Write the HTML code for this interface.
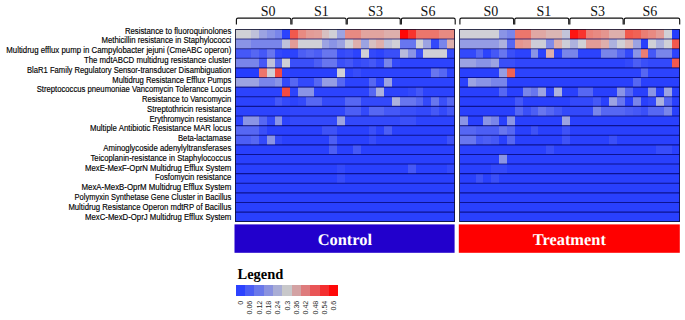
<!DOCTYPE html>
<html lang="en"><head><meta charset="utf-8"><title>Heatmap</title>
<style>
html,body{margin:0;padding:0;background:#fff;}
body{width:685px;height:320px;overflow:hidden;}
svg{display:block;}
.lab{font-family:"Liberation Sans",Arial,sans-serif;font-size:8.3px;fill:#000;stroke:#000;stroke-width:0.15px;}
.grp{font-family:"Liberation Serif","Times New Roman",serif;font-size:14px;fill:#111;}
.ttl{font-family:"Liberation Serif","Times New Roman",serif;font-weight:bold;font-size:16.4px;fill:#fff;text-rendering:geometricPrecision;}
.leg{font-family:"Liberation Serif","Times New Roman",serif;font-weight:bold;font-size:14.5px;fill:#000;}
.tick{font-family:"Liberation Sans",Arial,sans-serif;font-size:8px;fill:#2a2a2a;}
</style></head><body>
<svg width="685" height="320" viewBox="0 0 685 320">
<rect x="0" y="0" width="685" height="320" fill="#ffffff"/>

<g class="lab">
<text x="124.90" y="33.60" textLength="106.40" lengthAdjust="spacingAndGlyphs">Resistance to fluoroquinolones</text>
<text x="101.50" y="43.38" textLength="129.80" lengthAdjust="spacingAndGlyphs">Methicillin resistance in Staphylococci</text>
<text x="6.30" y="53.17" textLength="225.00" lengthAdjust="spacingAndGlyphs">Multidrug efflux pump in Campylobacter jejuni (CmeABC operon)</text>
<text x="84.00" y="62.95" textLength="147.30" lengthAdjust="spacingAndGlyphs">The mdtABCD multidrug resistance cluster</text>
<text x="27.00" y="72.74" textLength="204.30" lengthAdjust="spacingAndGlyphs">BlaR1 Family Regulatory Sensor-transducer Disambiguation</text>
<text x="112.30" y="82.52" textLength="119.00" lengthAdjust="spacingAndGlyphs">Multidrug Resistance Efflux Pumps</text>
<text x="36.70" y="92.30" textLength="194.60" lengthAdjust="spacingAndGlyphs">Streptococcus pneumoniae Vancomycin Tolerance Locus</text>
<text x="142.00" y="102.09" textLength="89.30" lengthAdjust="spacingAndGlyphs">Resistance to Vancomycin</text>
<text x="147.00" y="111.87" textLength="84.30" lengthAdjust="spacingAndGlyphs">Streptothricin resistance</text>
<text x="149.50" y="121.66" textLength="81.80" lengthAdjust="spacingAndGlyphs">Erythromycin resistance</text>
<text x="90.00" y="131.44" textLength="141.30" lengthAdjust="spacingAndGlyphs">Multiple Antibiotic Resistance MAR locus</text>
<text x="178.00" y="141.22" textLength="53.30" lengthAdjust="spacingAndGlyphs">Beta-lactamase</text>
<text x="103.25" y="151.01" textLength="128.05" lengthAdjust="spacingAndGlyphs">Aminoglycoside adenylyltransferases</text>
<text x="90.50" y="160.79" textLength="140.80" lengthAdjust="spacingAndGlyphs">Teicoplanin-resistance in Staphylococcus</text>
<text x="85.00" y="170.58" textLength="146.30" lengthAdjust="spacingAndGlyphs">MexE-MexF-OprN Multidrug Efflux System</text>
<text x="155.10" y="180.36" textLength="76.20" lengthAdjust="spacingAndGlyphs">Fosfomycin resistance</text>
<text x="81.50" y="190.14" textLength="149.80" lengthAdjust="spacingAndGlyphs">MexA-MexB-OprM Multidrug Efflux System</text>
<text x="74.50" y="199.93" textLength="156.80" lengthAdjust="spacingAndGlyphs">Polymyxin Synthetase Gene Cluster in Bacillus</text>
<text x="68.40" y="209.71" textLength="162.90" lengthAdjust="spacingAndGlyphs">Multidrug Resistance Operon mdtRP of Bacillus</text>
<text x="85.00" y="219.50" textLength="146.30" lengthAdjust="spacingAndGlyphs">MexC-MexD-OprJ Multidrug Efflux System</text>
</g>
<g shape-rendering="crispEdges">
<rect x="235.40" y="29.45" width="219.30" height="192.30" fill="#2940fd"/>
<rect x="235.40" y="29.45" width="15.66" height="9.62" fill="#d0d0d6"/>
<rect x="251.06" y="29.45" width="7.83" height="9.62" fill="#bfc1da"/>
<rect x="258.90" y="29.45" width="7.83" height="9.62" fill="#9ca3e2"/>
<rect x="266.73" y="29.45" width="7.83" height="9.62" fill="#8a94e6"/>
<rect x="274.56" y="29.45" width="7.83" height="9.62" fill="#7985ea"/>
<rect x="282.39" y="29.45" width="7.83" height="9.62" fill="#2c43fd"/>
<rect x="290.23" y="29.45" width="7.83" height="9.62" fill="#f2594d"/>
<rect x="298.06" y="29.45" width="7.83" height="9.62" fill="#e88a82"/>
<rect x="305.89" y="29.45" width="7.83" height="9.62" fill="#e39c97"/>
<rect x="313.72" y="29.45" width="7.83" height="9.62" fill="#e2a09b"/>
<rect x="321.55" y="29.45" width="7.83" height="9.62" fill="#d7c0c1"/>
<rect x="329.39" y="29.45" width="7.83" height="9.62" fill="#d0d0d6"/>
<rect x="337.22" y="29.45" width="7.83" height="9.62" fill="#9ca3e2"/>
<rect x="345.05" y="29.45" width="15.66" height="9.62" fill="#e88a82"/>
<rect x="360.71" y="29.45" width="23.50" height="9.62" fill="#e1a49f"/>
<rect x="384.21" y="29.45" width="15.66" height="9.62" fill="#deafac"/>
<rect x="399.88" y="29.45" width="7.83" height="9.62" fill="#ff0808"/>
<rect x="407.71" y="29.45" width="7.83" height="9.62" fill="#f8342d"/>
<rect x="415.54" y="29.45" width="23.50" height="9.62" fill="#ec766c"/>
<rect x="439.04" y="29.45" width="15.66" height="9.62" fill="#e88a82"/>
<rect x="235.40" y="39.06" width="15.66" height="9.62" fill="#8a94e6"/>
<rect x="251.06" y="39.06" width="31.33" height="9.62" fill="#7985ea"/>
<rect x="282.39" y="39.06" width="7.83" height="9.62" fill="#bfc1da"/>
<rect x="290.23" y="39.06" width="7.83" height="9.62" fill="#e39c97"/>
<rect x="298.06" y="39.06" width="23.50" height="9.62" fill="#d0d0d6"/>
<rect x="321.55" y="39.06" width="7.83" height="9.62" fill="#9ca3e2"/>
<rect x="329.39" y="39.06" width="7.83" height="9.62" fill="#8a94e6"/>
<rect x="337.22" y="39.06" width="7.83" height="9.62" fill="#9ca3e2"/>
<rect x="345.05" y="39.06" width="7.83" height="9.62" fill="#d0d0d6"/>
<rect x="352.88" y="39.06" width="7.83" height="9.62" fill="#deafac"/>
<rect x="360.71" y="39.06" width="7.83" height="9.62" fill="#9ca3e2"/>
<rect x="368.55" y="39.06" width="7.83" height="9.62" fill="#d7c0c1"/>
<rect x="376.38" y="39.06" width="7.83" height="9.62" fill="#deafac"/>
<rect x="384.21" y="39.06" width="7.83" height="9.62" fill="#bfc1da"/>
<rect x="392.04" y="39.06" width="7.83" height="9.62" fill="#d0d0d6"/>
<rect x="399.88" y="39.06" width="15.66" height="9.62" fill="#6876ef"/>
<rect x="415.54" y="39.06" width="7.83" height="9.62" fill="#d0d0d6"/>
<rect x="423.37" y="39.06" width="7.83" height="9.62" fill="#9ca3e2"/>
<rect x="431.20" y="39.06" width="7.83" height="9.62" fill="#3349fb"/>
<rect x="439.04" y="39.06" width="7.83" height="9.62" fill="#7985ea"/>
<rect x="446.87" y="39.06" width="7.83" height="9.62" fill="#deafac"/>
<rect x="235.40" y="48.68" width="15.66" height="9.62" fill="#4558f7"/>
<rect x="251.06" y="48.68" width="7.83" height="9.62" fill="#5667f3"/>
<rect x="258.90" y="48.68" width="7.83" height="9.62" fill="#4558f7"/>
<rect x="266.73" y="48.68" width="7.83" height="9.62" fill="#6876ef"/>
<rect x="274.56" y="48.68" width="7.83" height="9.62" fill="#3349fb"/>
<rect x="282.39" y="48.68" width="15.66" height="9.62" fill="#2c43fd"/>
<rect x="298.06" y="48.68" width="7.83" height="9.62" fill="#4c5ef5"/>
<rect x="305.89" y="48.68" width="7.83" height="9.62" fill="#5667f3"/>
<rect x="313.72" y="48.68" width="7.83" height="9.62" fill="#4c5ef5"/>
<rect x="321.55" y="48.68" width="15.66" height="9.62" fill="#6876ef"/>
<rect x="337.22" y="48.68" width="7.83" height="9.62" fill="#3349fb"/>
<rect x="345.05" y="48.68" width="7.83" height="9.62" fill="#3a4ff9"/>
<rect x="352.88" y="48.68" width="7.83" height="9.62" fill="#2c43fd"/>
<rect x="360.71" y="48.68" width="7.83" height="9.62" fill="#d0d0d6"/>
<rect x="368.55" y="48.68" width="7.83" height="9.62" fill="#3349fb"/>
<rect x="376.38" y="48.68" width="7.83" height="9.62" fill="#2c43fd"/>
<rect x="384.21" y="48.68" width="15.66" height="9.62" fill="#3a4ff9"/>
<rect x="399.88" y="48.68" width="7.83" height="9.62" fill="#b8bbdc"/>
<rect x="407.71" y="48.68" width="7.83" height="9.62" fill="#8a94e6"/>
<rect x="415.54" y="48.68" width="7.83" height="9.62" fill="#3a4ff9"/>
<rect x="423.37" y="48.68" width="23.50" height="9.62" fill="#d0d0d6"/>
<rect x="446.87" y="48.68" width="7.83" height="9.62" fill="#3349fb"/>
<rect x="235.40" y="58.30" width="23.50" height="9.62" fill="#7985ea"/>
<rect x="258.90" y="58.30" width="7.83" height="9.62" fill="#4558f7"/>
<rect x="266.73" y="58.30" width="7.83" height="9.62" fill="#bfc1da"/>
<rect x="274.56" y="58.30" width="7.83" height="9.62" fill="#5667f3"/>
<rect x="282.39" y="58.30" width="7.83" height="9.62" fill="#d0d0d6"/>
<rect x="290.23" y="58.30" width="23.50" height="9.62" fill="#3a4ff9"/>
<rect x="313.72" y="58.30" width="7.83" height="9.62" fill="#4c5ef5"/>
<rect x="321.55" y="58.30" width="15.66" height="9.62" fill="#6876ef"/>
<rect x="337.22" y="58.30" width="7.83" height="9.62" fill="#3a4ff9"/>
<rect x="345.05" y="58.30" width="7.83" height="9.62" fill="#4558f7"/>
<rect x="352.88" y="58.30" width="7.83" height="9.62" fill="#3349fb"/>
<rect x="360.71" y="58.30" width="7.83" height="9.62" fill="#3a4ff9"/>
<rect x="368.55" y="58.30" width="7.83" height="9.62" fill="#4558f7"/>
<rect x="376.38" y="58.30" width="7.83" height="9.62" fill="#3349fb"/>
<rect x="384.21" y="58.30" width="7.83" height="9.62" fill="#7985ea"/>
<rect x="392.04" y="58.30" width="7.83" height="9.62" fill="#3349fb"/>
<rect x="399.88" y="58.30" width="54.82" height="9.62" fill="#2c43fd"/>
<rect x="235.40" y="67.91" width="23.50" height="9.62" fill="#253dfe"/>
<rect x="258.90" y="67.91" width="7.83" height="9.62" fill="#ec766c"/>
<rect x="266.73" y="67.91" width="7.83" height="9.62" fill="#d0d0d6"/>
<rect x="274.56" y="67.91" width="7.83" height="9.62" fill="#f44b41"/>
<rect x="282.39" y="67.91" width="7.83" height="9.62" fill="#2c43fd"/>
<rect x="337.22" y="67.91" width="7.83" height="9.62" fill="#d0d0d6"/>
<rect x="345.05" y="67.91" width="7.83" height="9.62" fill="#2c43fd"/>
<rect x="352.88" y="67.91" width="7.83" height="9.62" fill="#374cfa"/>
<rect x="360.71" y="67.91" width="70.49" height="9.62" fill="#2c43fd"/>
<rect x="431.20" y="67.91" width="7.83" height="9.62" fill="#6876ef"/>
<rect x="439.04" y="67.91" width="7.83" height="9.62" fill="#5667f3"/>
<rect x="446.87" y="67.91" width="7.83" height="9.62" fill="#2c43fd"/>
<rect x="235.40" y="77.53" width="23.50" height="9.62" fill="#9ca3e2"/>
<rect x="258.90" y="77.53" width="15.66" height="9.62" fill="#7985ea"/>
<rect x="274.56" y="77.53" width="7.83" height="9.62" fill="#8a94e6"/>
<rect x="282.39" y="77.53" width="7.83" height="9.62" fill="#3349fb"/>
<rect x="290.23" y="77.53" width="7.83" height="9.62" fill="#5667f3"/>
<rect x="298.06" y="77.53" width="15.66" height="9.62" fill="#3349fb"/>
<rect x="313.72" y="77.53" width="7.83" height="9.62" fill="#5667f3"/>
<rect x="321.55" y="77.53" width="15.66" height="9.62" fill="#959de4"/>
<rect x="337.22" y="77.53" width="7.83" height="9.62" fill="#5667f3"/>
<rect x="345.05" y="77.53" width="23.50" height="9.62" fill="#2c43fd"/>
<rect x="368.55" y="77.53" width="7.83" height="9.62" fill="#5667f3"/>
<rect x="376.38" y="77.53" width="7.83" height="9.62" fill="#2c43fd"/>
<rect x="384.21" y="77.53" width="7.83" height="9.62" fill="#9ca3e2"/>
<rect x="392.04" y="77.53" width="62.66" height="9.62" fill="#2c43fd"/>
<rect x="235.40" y="87.14" width="46.99" height="9.62" fill="#2c43fd"/>
<rect x="282.39" y="87.14" width="7.83" height="9.62" fill="#f44b41"/>
<rect x="290.23" y="87.14" width="7.83" height="9.62" fill="#2c43fd"/>
<rect x="298.06" y="87.14" width="15.66" height="9.62" fill="#8a94e6"/>
<rect x="313.72" y="87.14" width="54.82" height="9.62" fill="#2c43fd"/>
<rect x="368.55" y="87.14" width="7.83" height="9.62" fill="#5667f3"/>
<rect x="376.38" y="87.14" width="7.83" height="9.62" fill="#adb2de"/>
<rect x="384.21" y="87.14" width="23.50" height="9.62" fill="#2c43fd"/>
<rect x="407.71" y="87.14" width="7.83" height="9.62" fill="#3349fb"/>
<rect x="415.54" y="87.14" width="7.83" height="9.62" fill="#4558f7"/>
<rect x="423.37" y="87.14" width="31.33" height="9.62" fill="#2c43fd"/>
<rect x="235.40" y="96.76" width="39.16" height="9.62" fill="#2c43fd"/>
<rect x="274.56" y="96.76" width="7.83" height="9.62" fill="#4558f7"/>
<rect x="282.39" y="96.76" width="7.83" height="9.62" fill="#3349fb"/>
<rect x="290.23" y="96.76" width="7.83" height="9.62" fill="#2c43fd"/>
<rect x="298.06" y="96.76" width="7.83" height="9.62" fill="#3349fb"/>
<rect x="305.89" y="96.76" width="15.66" height="9.62" fill="#5667f3"/>
<rect x="321.55" y="96.76" width="23.50" height="9.62" fill="#3349fb"/>
<rect x="345.05" y="96.76" width="15.66" height="9.62" fill="#5667f3"/>
<rect x="360.71" y="96.76" width="31.33" height="9.62" fill="#3349fb"/>
<rect x="392.04" y="96.76" width="7.83" height="9.62" fill="#adb2de"/>
<rect x="399.88" y="96.76" width="15.66" height="9.62" fill="#6876ef"/>
<rect x="415.54" y="96.76" width="7.83" height="9.62" fill="#5667f3"/>
<rect x="423.37" y="96.76" width="7.83" height="9.62" fill="#3349fb"/>
<rect x="431.20" y="96.76" width="7.83" height="9.62" fill="#6876ef"/>
<rect x="439.04" y="96.76" width="7.83" height="9.62" fill="#3a4ff9"/>
<rect x="446.87" y="96.76" width="7.83" height="9.62" fill="#5667f3"/>
<rect x="235.40" y="106.37" width="54.82" height="9.62" fill="#2c43fd"/>
<rect x="290.23" y="106.37" width="54.82" height="9.62" fill="#3046fc"/>
<rect x="345.05" y="106.37" width="15.66" height="9.62" fill="#4c5ef5"/>
<rect x="360.71" y="106.37" width="7.83" height="9.62" fill="#3349fb"/>
<rect x="368.55" y="106.37" width="15.66" height="9.62" fill="#5667f3"/>
<rect x="384.21" y="106.37" width="15.66" height="9.62" fill="#4558f7"/>
<rect x="399.88" y="106.37" width="15.66" height="9.62" fill="#3a4ff9"/>
<rect x="415.54" y="106.37" width="15.66" height="9.62" fill="#3349fb"/>
<rect x="431.20" y="106.37" width="7.83" height="9.62" fill="#4558f7"/>
<rect x="439.04" y="106.37" width="7.83" height="9.62" fill="#3349fb"/>
<rect x="446.87" y="106.37" width="7.83" height="9.62" fill="#4558f7"/>
<rect x="235.40" y="115.98" width="7.83" height="9.62" fill="#2c43fd"/>
<rect x="243.23" y="115.98" width="15.66" height="9.62" fill="#8a94e6"/>
<rect x="258.90" y="115.98" width="7.83" height="9.62" fill="#5667f3"/>
<rect x="266.73" y="115.98" width="7.83" height="9.62" fill="#3349fb"/>
<rect x="274.56" y="115.98" width="7.83" height="9.62" fill="#8a94e6"/>
<rect x="282.39" y="115.98" width="7.83" height="9.62" fill="#2c43fd"/>
<rect x="290.23" y="115.98" width="46.99" height="9.62" fill="#3349fb"/>
<rect x="337.22" y="115.98" width="7.83" height="9.62" fill="#9ca3e2"/>
<rect x="345.05" y="115.98" width="54.82" height="9.62" fill="#3349fb"/>
<rect x="399.88" y="115.98" width="15.66" height="9.62" fill="#3a4ff9"/>
<rect x="415.54" y="115.98" width="39.16" height="9.62" fill="#2c43fd"/>
<rect x="235.40" y="125.60" width="23.50" height="9.62" fill="#5667f3"/>
<rect x="258.90" y="125.60" width="7.83" height="9.62" fill="#3a4ff9"/>
<rect x="321.55" y="125.60" width="15.66" height="9.62" fill="#3e52f8"/>
<rect x="368.55" y="125.60" width="7.83" height="9.62" fill="#3a4ff9"/>
<rect x="384.21" y="125.60" width="7.83" height="9.62" fill="#4c5ef5"/>
<rect x="235.40" y="135.22" width="15.66" height="9.62" fill="#4c5ef5"/>
<rect x="251.06" y="135.22" width="7.83" height="9.62" fill="#5667f3"/>
<rect x="258.90" y="135.22" width="7.83" height="9.62" fill="#3349fb"/>
<rect x="266.73" y="135.22" width="7.83" height="9.62" fill="#8a94e6"/>
<rect x="274.56" y="135.22" width="7.83" height="9.62" fill="#3349fb"/>
<rect x="329.39" y="135.22" width="7.83" height="9.62" fill="#4c5ef5"/>
<rect x="368.55" y="135.22" width="7.83" height="9.62" fill="#374cfa"/>
<rect x="446.87" y="135.22" width="7.83" height="9.62" fill="#3e52f8"/>
<rect x="329.39" y="144.83" width="7.83" height="9.62" fill="#4c5ef5"/>
<rect x="352.88" y="144.83" width="7.83" height="9.62" fill="#4558f7"/>
<rect x="337.22" y="164.06" width="7.83" height="9.62" fill="#3349fb"/>
<rect x="407.71" y="164.06" width="7.83" height="9.62" fill="#4558f7"/>
<rect x="446.87" y="164.06" width="7.83" height="9.62" fill="#3349fb"/>
<rect x="337.22" y="173.67" width="7.83" height="9.62" fill="#374cfa"/>
</g>
<g stroke="#000064" stroke-opacity="0.7" stroke-width="1.1" fill="none">
<line x1="235.40" y1="39.06" x2="454.70" y2="39.06"/>
<line x1="235.40" y1="48.68" x2="454.70" y2="48.68"/>
<line x1="235.40" y1="58.30" x2="454.70" y2="58.30"/>
<line x1="235.40" y1="67.91" x2="454.70" y2="67.91"/>
<line x1="235.40" y1="77.53" x2="454.70" y2="77.53"/>
<line x1="235.40" y1="87.14" x2="454.70" y2="87.14"/>
<line x1="235.40" y1="96.76" x2="454.70" y2="96.76"/>
<line x1="235.40" y1="106.37" x2="454.70" y2="106.37"/>
<line x1="235.40" y1="115.98" x2="454.70" y2="115.98"/>
<line x1="235.40" y1="125.60" x2="454.70" y2="125.60"/>
<line x1="235.40" y1="135.22" x2="454.70" y2="135.22"/>
<line x1="235.40" y1="144.83" x2="454.70" y2="144.83"/>
<line x1="235.40" y1="154.44" x2="454.70" y2="154.44"/>
<line x1="235.40" y1="164.06" x2="454.70" y2="164.06"/>
<line x1="235.40" y1="173.67" x2="454.70" y2="173.67"/>
<line x1="235.40" y1="183.29" x2="454.70" y2="183.29"/>
<line x1="235.40" y1="192.91" x2="454.70" y2="192.91"/>
<line x1="235.40" y1="202.52" x2="454.70" y2="202.52"/>
<line x1="235.40" y1="212.13" x2="454.70" y2="212.13"/>
</g>
<rect x="235.40" y="29.45" width="219.30" height="192.30" fill="none" stroke="#0a0a28" stroke-opacity="0.8" stroke-width="1" shape-rendering="crispEdges"/>
<g shape-rendering="crispEdges">
<rect x="459.90" y="29.45" width="219.90" height="192.30" fill="#2940fd"/>
<rect x="459.90" y="29.45" width="39.27" height="9.62" fill="#d0d0d6"/>
<rect x="499.17" y="29.45" width="7.85" height="9.62" fill="#8a94e6"/>
<rect x="507.02" y="29.45" width="7.85" height="9.62" fill="#7985ea"/>
<rect x="514.88" y="29.45" width="15.71" height="9.62" fill="#ec766c"/>
<rect x="530.58" y="29.45" width="15.71" height="9.62" fill="#e0a8a4"/>
<rect x="546.29" y="29.45" width="15.71" height="9.62" fill="#dbb6b4"/>
<rect x="562.00" y="29.45" width="7.85" height="9.62" fill="#c2c4d9"/>
<rect x="569.85" y="29.45" width="7.85" height="9.62" fill="#fd1513"/>
<rect x="577.70" y="29.45" width="7.85" height="9.62" fill="#f8342d"/>
<rect x="585.56" y="29.45" width="7.85" height="9.62" fill="#ea8279"/>
<rect x="593.41" y="29.45" width="7.85" height="9.62" fill="#e88a82"/>
<rect x="601.26" y="29.45" width="7.85" height="9.62" fill="#e5958f"/>
<rect x="609.12" y="29.45" width="15.71" height="9.62" fill="#deafac"/>
<rect x="624.82" y="29.45" width="7.85" height="9.62" fill="#f2594d"/>
<rect x="632.68" y="29.45" width="7.85" height="9.62" fill="#f06255"/>
<rect x="640.53" y="29.45" width="7.85" height="9.62" fill="#ea7e74"/>
<rect x="648.39" y="29.45" width="7.85" height="9.62" fill="#e88a82"/>
<rect x="656.24" y="29.45" width="7.85" height="9.62" fill="#e39c97"/>
<rect x="664.09" y="29.45" width="7.85" height="9.62" fill="#d0d0d6"/>
<rect x="671.95" y="29.45" width="7.85" height="9.62" fill="#253dfe"/>
<rect x="459.90" y="39.06" width="39.27" height="9.62" fill="#959de4"/>
<rect x="499.17" y="39.06" width="7.85" height="9.62" fill="#adb2de"/>
<rect x="507.02" y="39.06" width="7.85" height="9.62" fill="#5667f3"/>
<rect x="514.88" y="39.06" width="7.85" height="9.62" fill="#e5958f"/>
<rect x="522.73" y="39.06" width="7.85" height="9.62" fill="#e39c97"/>
<rect x="530.58" y="39.06" width="15.71" height="9.62" fill="#cdcdd7"/>
<rect x="546.29" y="39.06" width="7.85" height="9.62" fill="#808be9"/>
<rect x="554.14" y="39.06" width="7.85" height="9.62" fill="#deafac"/>
<rect x="562.00" y="39.06" width="7.85" height="9.62" fill="#cdcdd7"/>
<rect x="569.85" y="39.06" width="7.85" height="9.62" fill="#adb2de"/>
<rect x="577.70" y="39.06" width="7.85" height="9.62" fill="#d0d0d6"/>
<rect x="585.56" y="39.06" width="15.71" height="9.62" fill="#e39c97"/>
<rect x="601.26" y="39.06" width="7.85" height="9.62" fill="#deafac"/>
<rect x="609.12" y="39.06" width="7.85" height="9.62" fill="#adb2de"/>
<rect x="616.97" y="39.06" width="7.85" height="9.62" fill="#d0d0d6"/>
<rect x="624.82" y="39.06" width="7.85" height="9.62" fill="#dab9b9"/>
<rect x="632.68" y="39.06" width="7.85" height="9.62" fill="#9ca3e2"/>
<rect x="648.39" y="39.06" width="7.85" height="9.62" fill="#d0d0d6"/>
<rect x="656.24" y="39.06" width="7.85" height="9.62" fill="#adb2de"/>
<rect x="664.09" y="39.06" width="7.85" height="9.62" fill="#d0d0d6"/>
<rect x="671.95" y="39.06" width="7.85" height="9.62" fill="#f2594d"/>
<rect x="459.90" y="48.68" width="15.71" height="9.62" fill="#3349fb"/>
<rect x="475.61" y="48.68" width="7.85" height="9.62" fill="#5667f3"/>
<rect x="483.46" y="48.68" width="7.85" height="9.62" fill="#2c43fd"/>
<rect x="491.31" y="48.68" width="7.85" height="9.62" fill="#4558f7"/>
<rect x="499.17" y="48.68" width="7.85" height="9.62" fill="#6876ef"/>
<rect x="507.02" y="48.68" width="7.85" height="9.62" fill="#3a4ff9"/>
<rect x="514.88" y="48.68" width="15.71" height="9.62" fill="#2c43fd"/>
<rect x="530.58" y="48.68" width="7.85" height="9.62" fill="#8a94e6"/>
<rect x="538.44" y="48.68" width="7.85" height="9.62" fill="#2c43fd"/>
<rect x="546.29" y="48.68" width="7.85" height="9.62" fill="#deafac"/>
<rect x="554.14" y="48.68" width="7.85" height="9.62" fill="#2c43fd"/>
<rect x="562.00" y="48.68" width="15.71" height="9.62" fill="#7985ea"/>
<rect x="577.70" y="48.68" width="23.56" height="9.62" fill="#2c43fd"/>
<rect x="601.26" y="48.68" width="15.71" height="9.62" fill="#7985ea"/>
<rect x="616.97" y="48.68" width="7.85" height="9.62" fill="#5667f3"/>
<rect x="624.82" y="48.68" width="7.85" height="9.62" fill="#3349fb"/>
<rect x="632.68" y="48.68" width="7.85" height="9.62" fill="#8a94e6"/>
<rect x="640.53" y="48.68" width="7.85" height="9.62" fill="#ea7e74"/>
<rect x="648.39" y="48.68" width="7.85" height="9.62" fill="#4558f7"/>
<rect x="656.24" y="48.68" width="15.71" height="9.62" fill="#7985ea"/>
<rect x="671.95" y="48.68" width="7.85" height="9.62" fill="#2c43fd"/>
<rect x="459.90" y="58.30" width="15.71" height="9.62" fill="#9ca3e2"/>
<rect x="475.61" y="58.30" width="15.71" height="9.62" fill="#8a94e6"/>
<rect x="491.31" y="58.30" width="7.85" height="9.62" fill="#9ca3e2"/>
<rect x="499.17" y="58.30" width="15.71" height="9.62" fill="#3a4ff9"/>
<rect x="514.88" y="58.30" width="54.97" height="9.62" fill="#3046fc"/>
<rect x="569.85" y="58.30" width="54.97" height="9.62" fill="#2c43fd"/>
<rect x="624.82" y="58.30" width="7.85" height="9.62" fill="#3349fb"/>
<rect x="632.68" y="58.30" width="7.85" height="9.62" fill="#4c5ef5"/>
<rect x="640.53" y="58.30" width="7.85" height="9.62" fill="#3a4ff9"/>
<rect x="648.39" y="58.30" width="23.56" height="9.62" fill="#3349fb"/>
<rect x="671.95" y="58.30" width="7.85" height="9.62" fill="#f2594d"/>
<rect x="499.17" y="67.91" width="7.85" height="9.62" fill="#959de4"/>
<rect x="507.02" y="67.91" width="7.85" height="9.62" fill="#f06255"/>
<rect x="514.88" y="67.91" width="125.66" height="9.62" fill="#2c43fd"/>
<rect x="640.53" y="67.91" width="7.85" height="9.62" fill="#5667f3"/>
<rect x="648.39" y="67.91" width="31.41" height="9.62" fill="#2c43fd"/>
<rect x="467.75" y="77.53" width="7.85" height="9.62" fill="#9ca3e2"/>
<rect x="475.61" y="77.53" width="15.71" height="9.62" fill="#8a94e6"/>
<rect x="491.31" y="77.53" width="15.71" height="9.62" fill="#7985ea"/>
<rect x="632.68" y="77.53" width="7.85" height="9.62" fill="#5667f3"/>
<rect x="499.17" y="87.14" width="7.85" height="9.62" fill="#5667f3"/>
<rect x="522.73" y="87.14" width="7.85" height="9.62" fill="#7985ea"/>
<rect x="530.58" y="87.14" width="7.85" height="9.62" fill="#6876ef"/>
<rect x="538.44" y="87.14" width="7.85" height="9.62" fill="#9ca3e2"/>
<rect x="554.14" y="87.14" width="7.85" height="9.62" fill="#adb2de"/>
<rect x="577.70" y="87.14" width="15.71" height="9.62" fill="#5667f3"/>
<rect x="616.97" y="87.14" width="7.85" height="9.62" fill="#8a94e6"/>
<rect x="624.82" y="87.14" width="7.85" height="9.62" fill="#5667f3"/>
<rect x="648.39" y="87.14" width="7.85" height="9.62" fill="#8a94e6"/>
<rect x="664.09" y="87.14" width="7.85" height="9.62" fill="#9ca3e2"/>
<rect x="514.88" y="96.76" width="7.85" height="9.62" fill="#4558f7"/>
<rect x="569.85" y="96.76" width="23.56" height="9.62" fill="#3349fb"/>
<rect x="593.41" y="96.76" width="7.85" height="9.62" fill="#4558f7"/>
<rect x="609.12" y="96.76" width="7.85" height="9.62" fill="#9ca3e2"/>
<rect x="616.97" y="96.76" width="7.85" height="9.62" fill="#6876ef"/>
<rect x="632.68" y="96.76" width="7.85" height="9.62" fill="#7985ea"/>
<rect x="648.39" y="96.76" width="7.85" height="9.62" fill="#3349fb"/>
<rect x="656.24" y="96.76" width="7.85" height="9.62" fill="#adb2de"/>
<rect x="664.09" y="96.76" width="7.85" height="9.62" fill="#5667f3"/>
<rect x="514.88" y="106.37" width="7.85" height="9.62" fill="#5667f3"/>
<rect x="522.73" y="106.37" width="7.85" height="9.62" fill="#3a4ff9"/>
<rect x="530.58" y="106.37" width="7.85" height="9.62" fill="#4c5ef5"/>
<rect x="538.44" y="106.37" width="7.85" height="9.62" fill="#6876ef"/>
<rect x="546.29" y="106.37" width="7.85" height="9.62" fill="#5667f3"/>
<rect x="554.14" y="106.37" width="7.85" height="9.62" fill="#4558f7"/>
<rect x="562.00" y="106.37" width="31.41" height="9.62" fill="#3349fb"/>
<rect x="593.41" y="106.37" width="7.85" height="9.62" fill="#7985ea"/>
<rect x="601.26" y="106.37" width="23.56" height="9.62" fill="#5667f3"/>
<rect x="624.82" y="106.37" width="7.85" height="9.62" fill="#4c5ef5"/>
<rect x="632.68" y="106.37" width="7.85" height="9.62" fill="#4558f7"/>
<rect x="640.53" y="106.37" width="7.85" height="9.62" fill="#3a4ff9"/>
<rect x="648.39" y="106.37" width="15.71" height="9.62" fill="#5667f3"/>
<rect x="664.09" y="106.37" width="7.85" height="9.62" fill="#7985ea"/>
<rect x="459.90" y="115.98" width="7.85" height="9.62" fill="#8a94e6"/>
<rect x="483.46" y="115.98" width="7.85" height="9.62" fill="#8a94e6"/>
<rect x="491.31" y="115.98" width="7.85" height="9.62" fill="#7985ea"/>
<rect x="507.02" y="115.98" width="7.85" height="9.62" fill="#8a94e6"/>
<rect x="562.00" y="115.98" width="7.85" height="9.62" fill="#9ca3e2"/>
<rect x="459.90" y="125.60" width="15.71" height="9.62" fill="#5667f3"/>
<rect x="475.61" y="125.60" width="23.56" height="9.62" fill="#4c5ef5"/>
<rect x="499.17" y="125.60" width="7.85" height="9.62" fill="#6876ef"/>
<rect x="507.02" y="125.60" width="7.85" height="9.62" fill="#5667f3"/>
<rect x="530.58" y="125.60" width="7.85" height="9.62" fill="#3e52f8"/>
<rect x="562.00" y="125.60" width="7.85" height="9.62" fill="#3e52f8"/>
<rect x="459.90" y="135.22" width="15.71" height="9.62" fill="#6876ef"/>
<rect x="475.61" y="135.22" width="7.85" height="9.62" fill="#4558f7"/>
<rect x="483.46" y="135.22" width="7.85" height="9.62" fill="#4c5ef5"/>
<rect x="491.31" y="135.22" width="7.85" height="9.62" fill="#4558f7"/>
<rect x="507.02" y="135.22" width="7.85" height="9.62" fill="#5667f3"/>
<rect x="562.00" y="135.22" width="7.85" height="9.62" fill="#3e52f8"/>
<rect x="609.12" y="135.22" width="7.85" height="9.62" fill="#3a4ff9"/>
<rect x="546.29" y="144.83" width="7.85" height="9.62" fill="#3a4ff9"/>
<rect x="656.24" y="144.83" width="15.71" height="9.62" fill="#374cfa"/>
<rect x="499.17" y="154.44" width="7.85" height="9.62" fill="#8a94e6"/>
<rect x="491.31" y="164.06" width="15.71" height="9.62" fill="#3349fb"/>
<rect x="475.61" y="173.67" width="7.85" height="9.62" fill="#3e52f8"/>
<rect x="491.31" y="173.67" width="7.85" height="9.62" fill="#3a4ff9"/>
</g>
<g stroke="#000064" stroke-opacity="0.7" stroke-width="1.1" fill="none">
<line x1="459.90" y1="39.06" x2="679.80" y2="39.06"/>
<line x1="459.90" y1="48.68" x2="679.80" y2="48.68"/>
<line x1="459.90" y1="58.30" x2="679.80" y2="58.30"/>
<line x1="459.90" y1="67.91" x2="679.80" y2="67.91"/>
<line x1="459.90" y1="77.53" x2="679.80" y2="77.53"/>
<line x1="459.90" y1="87.14" x2="679.80" y2="87.14"/>
<line x1="459.90" y1="96.76" x2="679.80" y2="96.76"/>
<line x1="459.90" y1="106.37" x2="679.80" y2="106.37"/>
<line x1="459.90" y1="115.98" x2="679.80" y2="115.98"/>
<line x1="459.90" y1="125.60" x2="679.80" y2="125.60"/>
<line x1="459.90" y1="135.22" x2="679.80" y2="135.22"/>
<line x1="459.90" y1="144.83" x2="679.80" y2="144.83"/>
<line x1="459.90" y1="154.44" x2="679.80" y2="154.44"/>
<line x1="459.90" y1="164.06" x2="679.80" y2="164.06"/>
<line x1="459.90" y1="173.67" x2="679.80" y2="173.67"/>
<line x1="459.90" y1="183.29" x2="679.80" y2="183.29"/>
<line x1="459.90" y1="192.91" x2="679.80" y2="192.91"/>
<line x1="459.90" y1="202.52" x2="679.80" y2="202.52"/>
<line x1="459.90" y1="212.13" x2="679.80" y2="212.13"/>
</g>
<rect x="459.90" y="29.45" width="219.90" height="192.30" fill="none" stroke="#0a0a28" stroke-opacity="0.8" stroke-width="1" shape-rendering="crispEdges"/>
<path d="M236.40 24.40 L236.40 19.70 Q236.40 18.10 238.00 18.10 L289.25 18.10 Q290.85 18.10 290.85 19.70 L290.85 24.40" fill="none" stroke="#111" stroke-width="1.15" stroke-linecap="butt"/><path d="M291.95 24.40 L291.95 19.70 Q291.95 18.10 293.55 18.10 L344.55 18.10 Q346.15 18.10 346.15 19.70 L346.15 24.40" fill="none" stroke="#111" stroke-width="1.15" stroke-linecap="butt"/><path d="M347.25 24.40 L347.25 19.70 Q347.25 18.10 348.85 18.10 L398.65 18.10 Q400.25 18.10 400.25 19.70 L400.25 24.40" fill="none" stroke="#111" stroke-width="1.15" stroke-linecap="butt"/><path d="M401.35 24.40 L401.35 19.70 Q401.35 18.10 402.95 18.10 L453.60 18.10 Q455.20 18.10 455.20 19.70 L455.20 24.40" fill="none" stroke="#111" stroke-width="1.15" stroke-linecap="butt"/>
<path d="M459.90 24.40 L459.90 19.70 Q459.90 18.10 461.50 18.10 L512.05 18.10 Q513.65 18.10 513.65 19.70 L513.65 24.40" fill="none" stroke="#111" stroke-width="1.15" stroke-linecap="butt"/><path d="M514.75 24.40 L514.75 19.70 Q514.75 18.10 516.35 18.10 L567.15 18.10 Q568.75 18.10 568.75 19.70 L568.75 24.40" fill="none" stroke="#111" stroke-width="1.15" stroke-linecap="butt"/><path d="M569.85 24.40 L569.85 19.70 Q569.85 18.10 571.45 18.10 L621.55 18.10 Q623.15 18.10 623.15 19.70 L623.15 24.40" fill="none" stroke="#111" stroke-width="1.15" stroke-linecap="butt"/><path d="M624.25 24.40 L624.25 19.70 Q624.25 18.10 625.85 18.10 L678.10 18.10 Q679.70 18.10 679.70 19.70 L679.70 24.40" fill="none" stroke="#111" stroke-width="1.15" stroke-linecap="butt"/>
<g class="grp" text-anchor="middle">
<text x="268.1" y="15.8">S0</text>
<text x="321.4" y="15.8">S1</text>
<text x="375.5" y="15.8">S3</text>
<text x="428.0" y="15.8">S6</text>
<text x="490.9" y="15.8">S0</text>
<text x="543.9" y="15.8">S1</text>
<text x="597.7" y="15.8">S3</text>
<text x="649.8" y="15.8">S6</text>
</g>
<rect x="234.5" y="224.4" width="220.1" height="28.4" fill="#2200cc"/>
<rect x="458.8" y="224.4" width="221" height="28.4" fill="#ff0000"/>
<text class="ttl" text-anchor="middle" x="344.8" y="245.1">Control</text>
<text class="ttl" text-anchor="middle" x="569.3" y="245.1">Treatment</text>
<text class="leg" x="237.5" y="279.3">Legend</text>
<g shape-rendering="crispEdges">
<rect x="235.50" y="285.00" width="9.40" height="11.00" fill="#2c42ff"/>
<rect x="244.85" y="285.00" width="9.40" height="11.00" fill="#4b5df4"/>
<rect x="254.20" y="285.00" width="9.40" height="11.00" fill="#6a78ea"/>
<rect x="263.55" y="285.00" width="9.40" height="11.00" fill="#8a92df"/>
<rect x="272.90" y="285.00" width="9.40" height="11.00" fill="#a9add5"/>
<rect x="282.25" y="285.00" width="9.40" height="11.00" fill="#c8c8ca"/>
<rect x="291.60" y="285.00" width="9.40" height="11.00" fill="#d3a2a3"/>
<rect x="300.95" y="285.00" width="9.40" height="11.00" fill="#de7b7c"/>
<rect x="310.30" y="285.00" width="9.40" height="11.00" fill="#e95556"/>
<rect x="319.65" y="285.00" width="9.40" height="11.00" fill="#f42e2f"/>
<rect x="329.00" y="285.00" width="9.40" height="11.00" fill="#ff0808"/>
</g>
<g class="tick" text-anchor="end">
<text transform="translate(242.93 300.7) rotate(-90) scale(0.89 1)" x="0" y="0">0</text>
<text transform="translate(252.28 300.7) rotate(-90) scale(0.89 1)" x="0" y="0">0.06</text>
<text transform="translate(261.62 300.7) rotate(-90) scale(0.89 1)" x="0" y="0">0.12</text>
<text transform="translate(270.98 300.7) rotate(-90) scale(0.89 1)" x="0" y="0">0.18</text>
<text transform="translate(280.32 300.7) rotate(-90) scale(0.89 1)" x="0" y="0">0.24</text>
<text transform="translate(289.68 300.7) rotate(-90) scale(0.89 1)" x="0" y="0">0.3</text>
<text transform="translate(299.02 300.7) rotate(-90) scale(0.89 1)" x="0" y="0">0.36</text>
<text transform="translate(308.38 300.7) rotate(-90) scale(0.89 1)" x="0" y="0">0.42</text>
<text transform="translate(317.73 300.7) rotate(-90) scale(0.89 1)" x="0" y="0">0.48</text>
<text transform="translate(327.07 300.7) rotate(-90) scale(0.89 1)" x="0" y="0">0.54</text>
<text transform="translate(336.43 300.7) rotate(-90) scale(0.89 1)" x="0" y="0">0.6</text>
</g>
</svg></body></html>
